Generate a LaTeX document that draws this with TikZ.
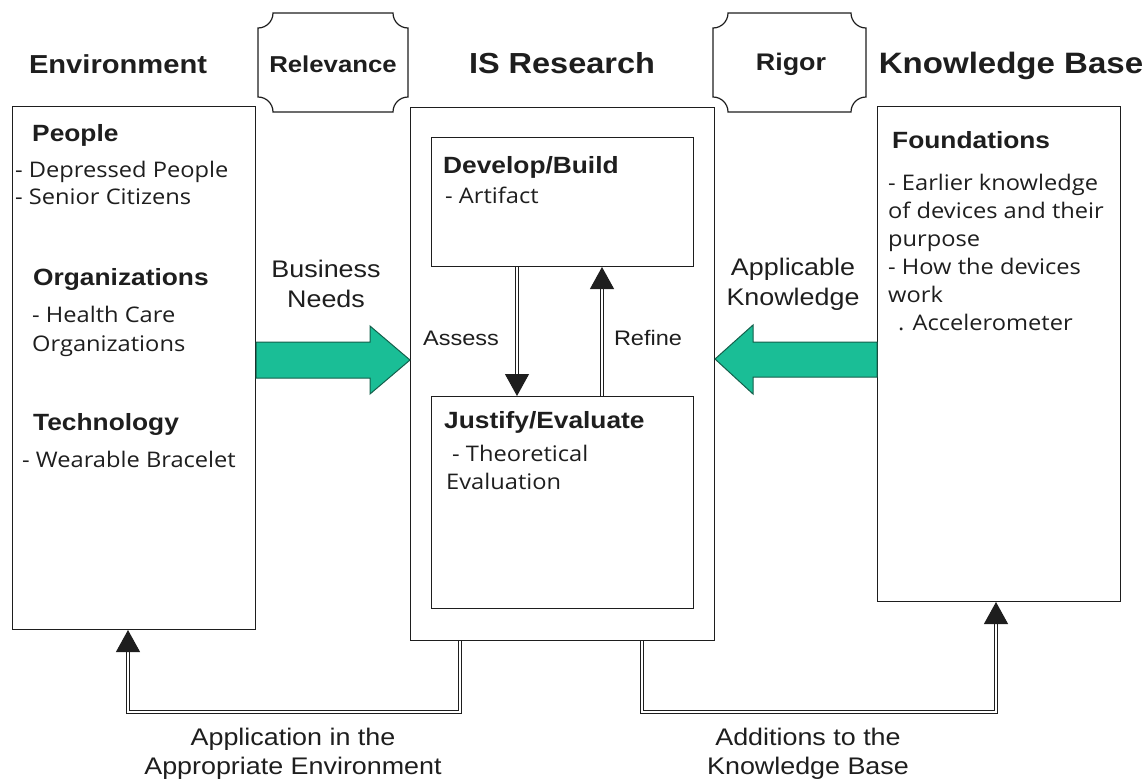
\documentclass[tikz,border=0pt]{standalone}
\usepackage{fontspec}
\setmainfont{Liberation Sans}[FakeStretch=1.12]
\newfontfamily\bodyfont{Open Sans}[FakeStretch=1.1]
\usetikzlibrary{arrows.meta,calc}
\definecolor{tealgreen}{RGB}{26,190,150}
\definecolor{darkgreen}{RGB}{20,95,75}
\definecolor{ink}{RGB}{30,30,30}
\tikzset{
  box/.style={draw=ink, line width=1pt, anchor=north west, inner sep=0pt},
  ttl/.style={font=\bfseries, anchor=base, inner sep=0pt, text=ink},
  hd/.style={font=\fontsize{23.5}{26}\selectfont\bfseries, anchor=base west, inner sep=0pt, text=ink},
  bd/.style={font=\bodyfont\fontsize{21.5}{26}\selectfont, anchor=base west, inner sep=0pt, text=ink},
  lbl/.style={font=\fontsize{24}{28}\selectfont, anchor=base, inner sep=0pt, text=ink},
  smlbl/.style={font=\fontsize{21}{24}\selectfont, anchor=base, inner sep=0pt, text=ink},
  dbl/.style={draw=ink, line width=1.1pt, double=white, double distance=2.6pt, line join=miter},
  tipd/.style={-{Triangle[length=22pt,width=24pt]}},
  grn/.style={fill=tealgreen, draw=darkgreen, line width=1pt, line join=miter},
  octa/.style={draw=ink, line width=1.2pt, fill=white}
}
\begin{document}
\begin{tikzpicture}[x=1pt,y=-1pt]
\useasboundingbox (0,0) rectangle (1148,782);

% titles
\node[ttl, font=\fontsize{26}{30}\selectfont\bfseries] (tenv) at (118,73) {Environment};
\node[ttl, font=\fontsize{29}{30}\selectfont\bfseries] (tisr) at (562,73) {IS Research};
\node[ttl, font=\fontsize{29.5}{30}\selectfont\bfseries] (tkb) at (1011,73) {Knowledge Base};

% relevance / rigor shapes
\def\r{15}
\draw[octa] (258+\r,13) -- (408-\r,13) arc[start angle=180,end angle=90,radius=\r]
  -- (408,112-\r) arc[start angle=270,end angle=180,radius=\r]
  -- (258+\r,112) arc[start angle=0,end angle=-90,radius=\r]
  -- (258,13+\r) arc[start angle=90,end angle=0,radius=\r] -- cycle;
\node[font=\fontsize{23}{26}\selectfont\bfseries, text=ink] (rel) at (333,64) {Relevance};
\draw[octa] (713+\r,13) -- (866-\r,13) arc[start angle=180,end angle=90,radius=\r]
  -- (866,112-\r) arc[start angle=270,end angle=180,radius=\r]
  -- (713+\r,112) arc[start angle=0,end angle=-90,radius=\r]
  -- (713,13+\r) arc[start angle=90,end angle=0,radius=\r] -- cycle;
\node[font=\fontsize{24}{26}\selectfont\bfseries, text=ink] (rig) at (791,64) {Rigor};

% main boxes
\node[box, minimum width=243pt, minimum height=523pt] (env) at (12,106) {};
\node[box, minimum width=304pt, minimum height=533pt] (isr) at (410,107) {};
\node[box, minimum width=262pt, minimum height=129pt] (dev) at (431,137) {};
\node[box, minimum width=262pt, minimum height=212pt] (jus) at (431,396) {};
\node[box, minimum width=243pt, minimum height=495pt] (kb) at (877,106) {};

% environment contents
\node[hd] (people) at (32,141) {People};
\node[bd] (p1) at (15,177) {- Depressed People};
\node[bd] (p2) at (15,204) {- Senior Citizens};
\node[hd] (orgs) at (33,285) {Organizations};
\node[bd] (o1) at (32,322) {- Health Care};
\node[bd] (o2) at (32,351) {Organizations};
\node[hd] (tech) at (33,430) {Technology};
\node[bd] (t1) at (22,467) {- Wearable Bracelet};

% knowledge base contents
\node[hd] (found) at (892,148) {Foundations};
\node[bd] (f1) at (888,190) {- Earlier knowledge};
\node[bd] (f2) at (888,218) {of devices and their};
\node[bd] (f3) at (888,246) {purpose};
\node[bd] (f4) at (888,274) {- How the devices};
\node[bd] (f5) at (888,302) {work};
\node[bd] (f6) at (898,330) {. Accelerometer};

% IS research contents
\node[hd] (devt) at (443,173) {Develop/Build};
\node[bd] (dev1) at (445,203) {- Artifact};
\node[hd] (just) at (444,428) {Justify/Evaluate};
\node[bd] (j1) at (452,461) {- Theoretical};
\node[bd] (j2) at (446,489) {Evaluation};

% assess / refine
\draw[dbl, tipd] (dev.south -| 517,0) -- (jus.north -| 517,0);
\draw[dbl, tipd] (jus.north -| 602,0) -- (dev.south -| 602,0);
\node[smlbl] (assess) at (461,345) {Assess};
\node[smlbl] (refine) at (648,345) {Refine};

% green arrows
\draw[grn] (env.east |- 0,342) -- (370,342) -- (370,326) -- (isr.west |- 0,360) -- (370,394) -- (370,378) -- (env.east |- 0,378) -- cycle;
\draw[grn] (kb.west |- 0,342) -- (753,342) -- (753,325) -- (isr.east |- 0,359) -- (753,394) -- (753,377) -- (kb.west |- 0,377) -- cycle;
\node[lbl] (bn1) at (326,277) {Business};
\node[lbl] (bn2) at (326,307) {Needs};
\node[lbl] (ak1) at (793,275) {Applicable};
\node[lbl] (ak2) at (793,305) {Knowledge};

% bottom feedback connectors
\coordinate (c1) at (460,712);
\coordinate (c2) at (642,712);
\draw[dbl, tipd] (isr.south -| 460,0) -- (c1) -| (env.south -| 128,0);
\draw[dbl, tipd] (isr.south -| 642,0) -- (c2) -| (kb.south -| 996,0);
\node[lbl] (ap1) at (293,745) {Application in the};
\node[lbl] (ap2) at (293,774) {Appropriate Environment};
\node[lbl] (ad1) at (808,745) {Additions to the};
\node[lbl] (ad2) at (808,774) {Knowledge Base};
\end{tikzpicture}
\end{document}
